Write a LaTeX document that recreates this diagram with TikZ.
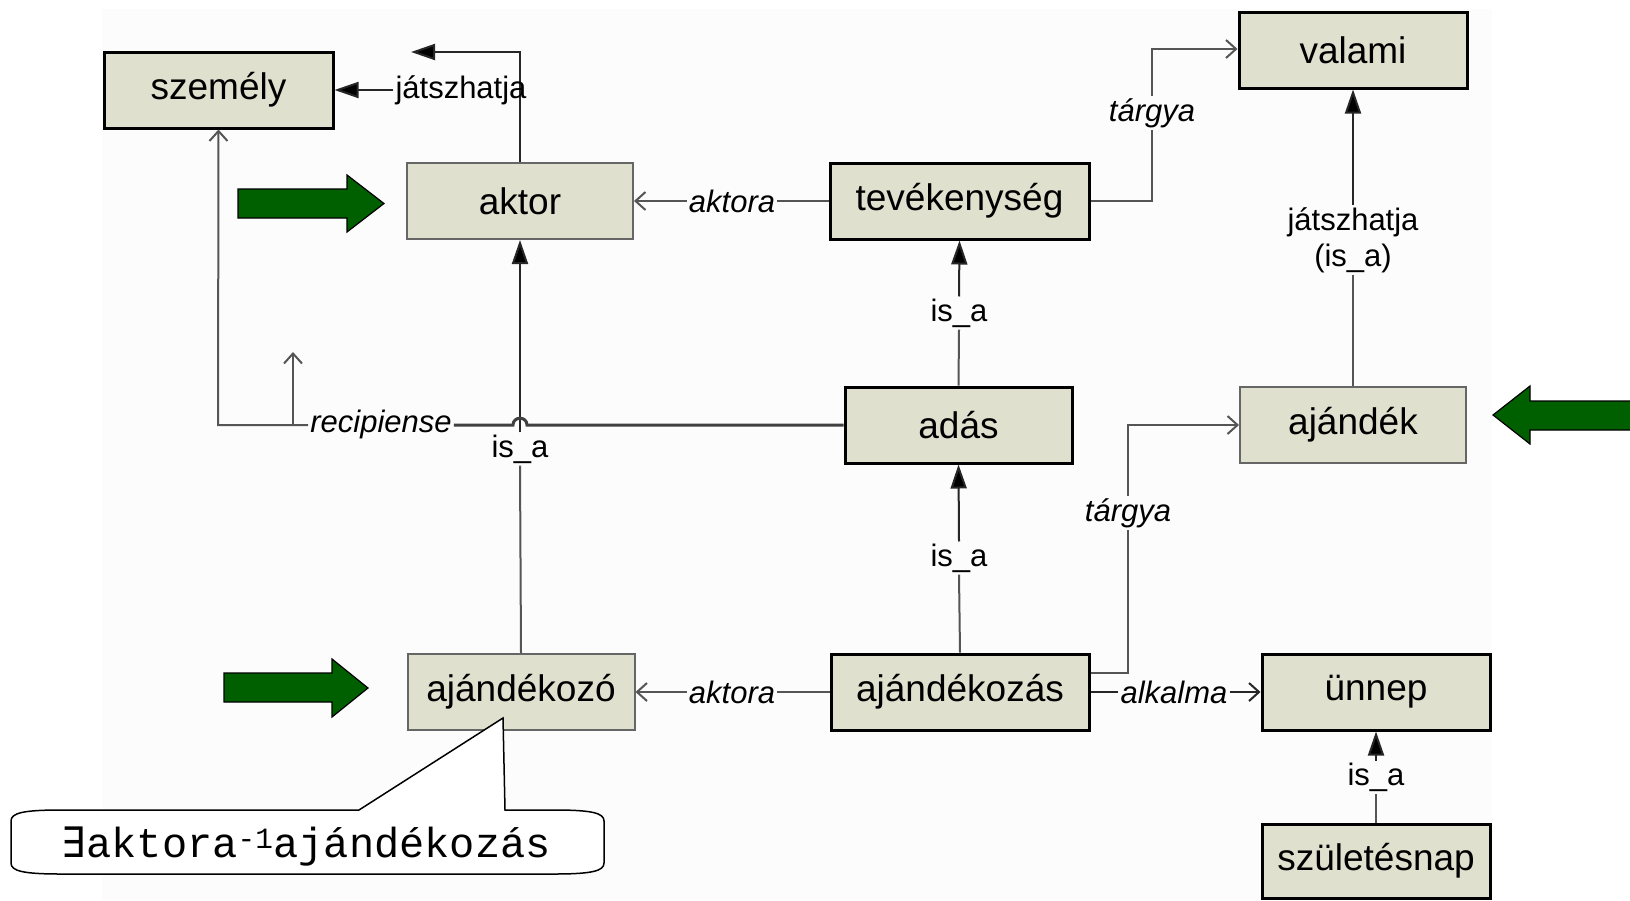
\documentclass[tikz,border=0pt]{standalone}
\usepackage{fontspec}
\setmainfont{Liberation Sans}
\newfontfamily\monof{Liberation Mono}
\newfontfamily\dvmono{DejaVu Sans Mono}
\usetikzlibrary{arrows.meta}
\definecolor{boxfill}{HTML}{DFE0CD}
\definecolor{bgc}{HTML}{FCFCFC}
\definecolor{linec}{HTML}{555555}
\definecolor{arrowgreen}{HTML}{006000}
\begin{document}
\begin{tikzpicture}[x=1pt,y=-1pt,
  thickbox/.style={draw=black,line width=3pt,fill=boxfill,minimum width=#1,minimum height=76pt,inner sep=0pt,font=\fontsize{37}{40}\selectfont},
  thinbox/.style={draw=black!60,line width=2pt,fill=boxfill,minimum width=#1,minimum height=76pt,inner sep=0pt,font=\fontsize{37}{40}\selectfont},
  lab/.style={fill=bgc,inner sep=2pt,font=\fontsize{31}{36}\selectfont},
  ilab/.style={fill=bgc,inner sep=2pt,font=\fontsize{31}{36}\selectfont\itshape},
  conn/.style={draw=linec,line width=2pt},
  fa/.style={-{Triangle[length=24pt,width=16pt,fill=black]}},
  oa/.style={-{Straight Barb[length=10pt,width=18pt]}},
  greenarrow/.style={fill=arrowgreen,draw=black,line width=1.2pt,line join=miter}
]
\useasboundingbox (0,0) rectangle (1630,900);
\fill[bgc] (102,9) rectangle (1492,900);

% boxes
\node[thickbox=229pt] (szemely) at (218.5,90) {személy};
\node[thinbox=226pt] (aktor) at (520,201) {aktor};
\node[thickbox=259pt] (tev) at (959.5,201) {tevékenység};
\node[thickbox=228pt] (valami) at (1353,50) {valami};
\node[thickbox=227pt] (adas) at (958.5,425) {adás};
\node[thinbox=226pt] (ajandek) at (1353,425) {ajándék};
\node[thinbox=227pt] (ajandekozo) at (521,692) {ajándékozó};
\node[thickbox=258pt] (ajandekozas) at (960,692) {ajándékozás};
\node[thickbox=228pt] (unnep) at (1376,692) {ünnep};
\node[thickbox=228pt,minimum height=74pt] (szul) at (1376,861) {születésnap};

% aktor -> up -> left
\coordinate (jt) at (411,52);
\draw[conn,draw=black!85,fa] (aktor.north) |- (jt);
\node[font=\fontsize{31}{36}\selectfont,inner sep=2pt] (jlab) at (461,90) {játszhatja};
\draw[conn,draw=black!85,fa] (jlab.west) -- (szemely.east);

% aktora (top)
\node[ilab] (akt1) at (732,201) {aktora};
\draw[conn] (tev.west) -- (akt1.east);
\draw[conn,oa] (akt1.west) -- (aktor.east);

% targya (top)
\coordinate (t1) at (1152,201);
\coordinate (t2) at (1152,49);
\node[ilab] (targ1) at (1152,113) {tárgya};
\draw[conn] (tev.east) -- (t1) -- (targ1.south);
\draw[conn,oa] (targ1.north) -- (t2) -- (valami.west |- t2);

% jatszhatja (is_a)
\node[lab,align=center] (jisa) at (1353,240) {játszhatja\\(is\_a)};
\draw[conn] (ajandek.north) -- (jisa.south);
\draw[conn,draw=black!85,fa] (jisa.north) -- (valami.south);

% adas -> tevekenyseg
\node[lab] (isa1) at (959,313) {is\_a};
\draw[conn] (adas.north) -- (isa1.south);
\draw[conn,draw=black!85,fa] (isa1.north) -- (tev.south);

% ajandekozas -> adas
\node[lab] (isa2) at (959,558) {is\_a};
\draw[conn] (ajandekozas.north) -- (isa2.south);
\draw[conn,draw=black!85,fa] (isa2.north) -- (adas.south);

% ajandekozo -> aktor
\node[lab] (isa3) at (520,449) {is\_a};
\draw[conn] (ajandekozo.north) -- (isa3.south);
\draw[conn,draw=black!85,fa] (isa3.north) -- (aktor.south);

% recipiense
\node[ilab,fill=none] (recip) at (381,424) {recipiense};
\coordinate (h1) at (527,425);
\coordinate (h2) at (513,425);
\draw[line width=3pt,draw=black!75] (adas.west) -- (h1) .. controls (527,416) and (513,416) .. (h2) -- (recip.east |- h2);
\coordinate (r1) at (218,425);
\draw[conn,oa] (recip.west |- r1) -- (r1) -- (szemely.south);
\coordinate (r2) at (293,425);
\coordinate (r3) at (293,352);
\draw[conn,oa] (r2) -- (r3);

% aktora (bottom)
\node[ilab] (akt2) at (732,692) {aktora};
\draw[conn] (ajandekozas.west) -- (akt2.east);
\draw[conn,oa] (akt2.west) -- (ajandekozo.east);

% targya (bottom)
\coordinate (b1) at (1128,673);
\coordinate (b2) at (1128,425);
\node[ilab] (targ2) at (1128,513) {tárgya};
\draw[conn] (ajandekozas.east |- b1) -- (b1) -- (targ2.south);
\draw[conn,oa] (targ2.north) -- (b2) -- (ajandek.west);

% alkalma
\node[ilab] (alk) at (1174,692) {alkalma};
\draw[conn,draw=black!85] (ajandekozas.east) -- (alk.west);
\draw[conn,draw=black!85,oa] (alk.east) -- (unnep.west);

% szuletesnap -> unnep
\node[lab] (isa4) at (1376,777) {is\_a};
\draw[conn] (szul.north) -- (isa4.south);
\draw[conn,draw=black!85,fa] (isa4.north) -- (unnep.south);

% green arrows
\draw[greenarrow] (238,189) -- (347,189) -- (347,175) -- (384,203.5) -- (347,232) -- (347,218) -- (238,218) -- cycle;
\draw[greenarrow] (224,673) -- (332,673) -- (332,659) -- (368,688) -- (332,717) -- (332,702) -- (224,702) -- cycle;
\draw[greenarrow] (1650,401) -- (1530,401) -- (1530,386) -- (1493,415) -- (1530,444) -- (1530,430) -- (1650,430) -- cycle;

% callout
\draw[line width=1.5pt,fill=white] (359,810) -- (503,718) -- (505,810) -- (554,810)
  .. controls (592,810) and (604,813) .. (604,821) -- (604,863)
  .. controls (604,871) and (592,874) .. (554,874) -- (61,874)
  .. controls (23,874) and (11,871) .. (11,863) -- (11,821)
  .. controls (11,813) and (23,810) .. (61,810) -- cycle;
\node[inner sep=0pt,font=\monof\fontsize{42}{46}\selectfont] (callt) at (306,847) {{\dvmono ∃}aktora\textsuperscript{-1}ajándékozás};
\end{tikzpicture}
\end{document}
